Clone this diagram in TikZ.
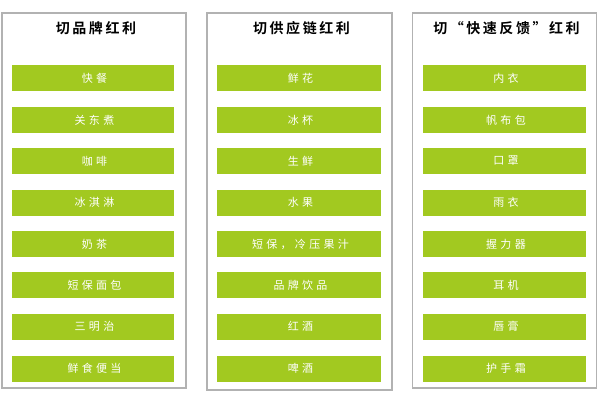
\documentclass[tikz,border=0pt]{standalone}
\usepackage{fontspec}
\newfontfamily\cjk[LetterSpace=30]{Noto Sans CJK SC}
\newfontfamily\cjkt[LetterSpace=18]{Noto Sans CJK SC Bold}
\definecolor{barg}{RGB}{162,201,32}
\definecolor{frameg}{RGB}{178,178,178}
\tikzset{
  panel/.style={draw=frameg, line width=1.3pt, fill=white, rectangle, inner sep=0pt},
  bar/.style={fill=barg, draw=none, rectangle, minimum height=26pt, inner sep=0pt, text=white, font=\cjk\fontsize{11}{12}\selectfont},
  ttl/.style={font=\cjkt\fontsize{14}{15}\selectfont, text=black}
}
\begin{document}
\begin{tikzpicture}[x=1pt,y=-1pt]
\useasboundingbox (0,0) rectangle (599,397);
\fill[white] (0,0) rectangle (599,397);
% panels
\node[panel, minimum width=184pt, minimum height=375pt] (p1) at (94,200.5) {};
\node[panel, minimum width=185pt, minimum height=377pt] (p2) at (299.5,201.5) {};
\node[panel, minimum width=184pt, minimum height=375pt] (p3) at (504.5,200.5) {};
% titles
\node[ttl] (t1) at (96,28) {切品牌红利};
\node[ttl] (t2) at (301.5,28) {切供应链红利};
\node[ttl] (t3) at (506.5,28) {切“快速反馈”红利};
% column 1
\foreach \i/\y/\t in {1/78/快餐,2/120/关东煮,3/161/咖啡,4/202.5/冰淇淋,5/244/奶茶,6/285/短保面包,7/326.5/三明治,8/368.5/鲜食便当}{
  \node[bar, minimum width=162pt] (a\i) at (93,\y) {\hspace*{3pt}\t};
}
% column 2
\foreach \i/\y/\t in {1/78/鲜花,2/120/冰杯,3/161/生鲜,4/202.5/水果,5/244/{短保，冷压果汁},6/285/品牌饮品,7/326.5/红酒,8/368.5/啤酒}{
  \node[bar, minimum width=164pt] (b\i) at (299,\y) {\hspace*{3pt}\t};
}
% column 3
\foreach \i/\y/\t in {1/78/内衣,2/120/帆布包,3/161/口罩,4/202.5/雨衣,5/244/握力器,6/285/耳机,7/326.5/唇膏,8/368.5/护手霜}{
  \node[bar, minimum width=163pt] (c\i) at (504.5,\y) {\hspace*{3pt}\t};
}
\end{tikzpicture}
\end{document}
